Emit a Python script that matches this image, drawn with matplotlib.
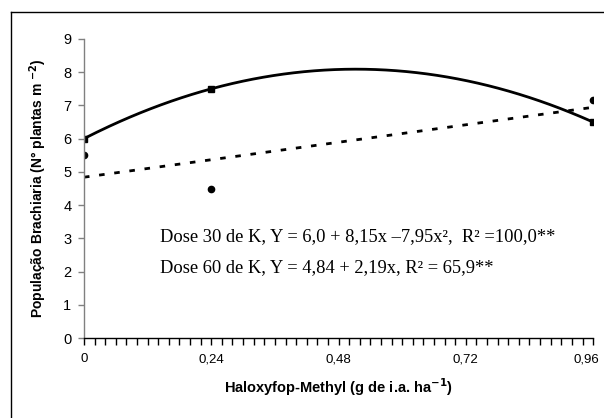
import numpy as np
import matplotlib
matplotlib.use("Agg")
import matplotlib.pyplot as plt
import matplotlib.transforms as mtransforms
from matplotlib.ticker import MultipleLocator, FixedLocator

# Data
doses = [0.0, 0.24, 0.96]
dose30_obs = [6.0, 7.5, 6.5]
dose60_obs = [5.5, 4.5, 7.15]
dose30_coef = [6.0, 8.15, -7.95]   # Y = a + b x + c x^2
dose60_coef = [4.84, 2.19]         # Y = a + b x
xticks = [0, 0.24, 0.48, 0.72, 0.96]
xticklabels = ["0", "0,24", "0,48", "0,72", "0,96"]
yticks = list(range(0, 10))

fig = plt.figure(figsize=(6.04, 4.18), dpi=100)
ax = fig.add_axes([0.139, 0.191, 0.843, 0.716])

xf = np.linspace(0, 0.96, 200)
y30 = dose30_coef[0] + dose30_coef[1] * xf + dose30_coef[2] * xf ** 2
y60 = dose60_coef[0] + dose60_coef[1] * xf

ax.plot(xf, y30, color="black", lw=2.0, solid_capstyle="butt")
ax.plot(xf, y60, color="black", lw=2.0, linestyle=(0, (2.0, 3.5)))
ax.plot(doses, dose30_obs, linestyle="none", marker="s", ms=5, color="black")
ax.plot(doses, dose60_obs, linestyle="none", marker="o", ms=4.5, color="black")

ax.set_xlim(0, 0.96)
ax.set_ylim(0, 9)
ax.xaxis.set_major_locator(FixedLocator(xticks))
ax.set_xticklabels(xticklabels)
ax.xaxis.set_minor_locator(MultipleLocator(0.02))
ax.set_yticks(yticks)

for s in ["top", "right"]:
    ax.spines[s].set_visible(False)
ax.spines["left"].set_color("#808080")
ax.spines["bottom"].set_color("black")
ax.spines["left"].set_linewidth(1.0)
ax.spines["bottom"].set_linewidth(1.0)

ax.tick_params(axis="x", which="both", direction="out", length=5, width=1.0,
               colors="black", labelsize=9.5, pad=6)
ax.tick_params(axis="y", which="major", direction="out", length=4, width=1.0,
               color="#808080", labelcolor="black", labelsize=10.5, pad=5)
for lab in ax.get_xticklabels() + ax.get_yticklabels():
    lab.set_family("Liberation Sans")
last = ax.get_xticklabels()[-1]
last.set_transform(last.get_transform() +
                   mtransforms.ScaledTranslation(-5 / 72, 0, fig.dpi_scale_trans))

ax.set_xlabel("Haloxyfop-Methyl (g de i.a. ha$^{\\mathbf{-1}}$)", fontsize=10.5,
              fontweight="bold", family="Liberation Sans", labelpad=8)
ax.set_ylabel("População Brachiaria (N° plantas m $^{\\mathbf{-2}}$)", fontsize=10,
              fontweight="bold", family="Liberation Sans", labelpad=10)

ax.text(0.143, 3.05, "Dose 30 de K, Y = 6,0 + 8,15x \u20137,95x\u00b2,  R\u00b2 =100,0**",
        fontsize=13.3, family="Liberation Serif", va="center", ha="left")
ax.text(0.143, 2.12, "Dose 60 de K, Y = 4,84 + 2,19x, R\u00b2 = 65,9**",
        fontsize=13.3, family="Liberation Serif", va="center", ha="left")

# outer chart border (cropped at right and bottom)
fig.add_artist(plt.Line2D([11 / 604, 11 / 604], [0, 1 - 12 / 418], transform=fig.transFigure,
                          color="black", lw=1.0))
fig.add_artist(plt.Line2D([11 / 604, 1], [1 - 12 / 418, 1 - 12 / 418], transform=fig.transFigure,
                          color="black", lw=1.0))

fig.savefig("out.png", dpi=100)
